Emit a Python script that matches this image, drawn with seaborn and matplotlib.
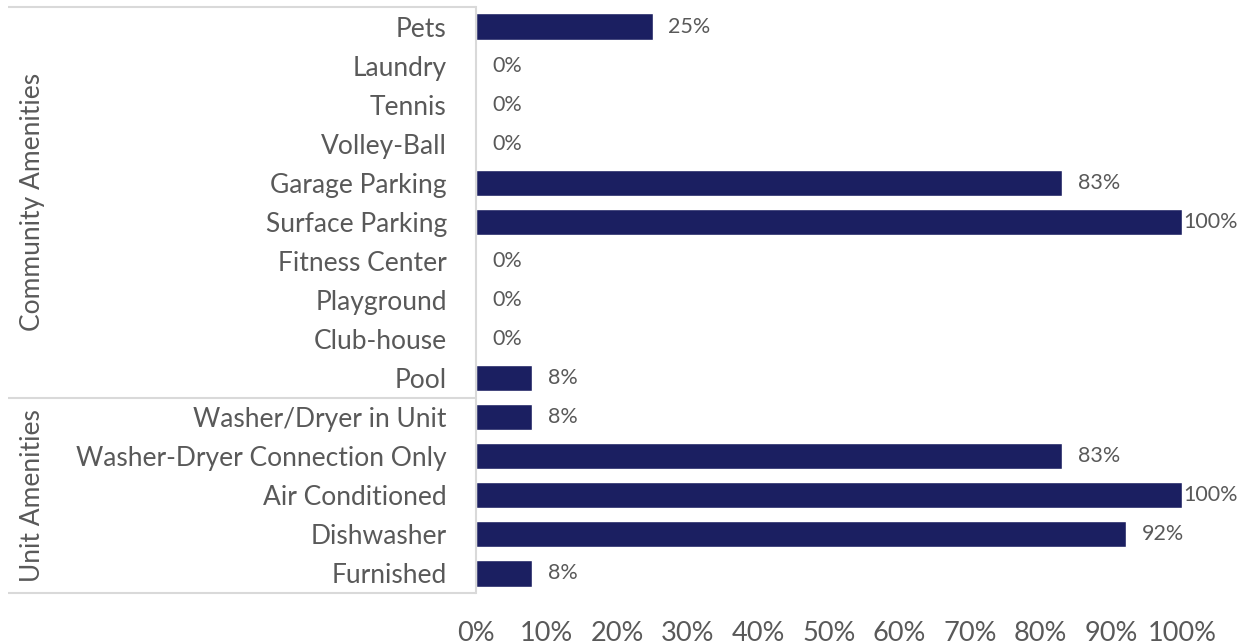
import matplotlib
matplotlib.use("Agg")
import matplotlib.pyplot as plt
import matplotlib.transforms as mtransforms
import seaborn as sns
import pandas as pd

categories = [
    "Pets", "Laundry", "Tennis", "Volley-Ball", "Garage Parking",
    "Surface Parking", "Fitness Center", "Playground", "Club-house", "Pool",
    "Washer/Dryer in Unit", "Washer-Dryer Connection Only", "Air Conditioned",
    "Dishwasher", "Furnished",
]
values = [25, 0, 0, 0, 83, 100, 0, 0, 0, 8, 8, 83, 100, 92, 8]
groups = ["Community Amenities"] * 10 + ["Unit Amenities"] * 5
tick_values = [0, 10, 20, 30, 40, 50, 60, 70, 80, 90, 100]

df = pd.DataFrame({"category": categories, "value": values, "group": groups})

sns.set_theme(style="white")
plt.rcParams["font.family"] = ["Lato", "DejaVu Sans"]

BAR = "#1b1f61"
TEXT = "#595959"
GRID = "#d9d9d9"

fig = plt.figure(figsize=(12.47, 6.44), dpi=100)
ax = fig.add_axes([476 / 1247, 1 - 593 / 644, (1182 - 476) / 1247, 586 / 644])

sns.barplot(data=df, x="value", y="category", order=categories, color=BAR,
            orient="h", width=0.67, saturation=1, ax=ax)

ax.set_xlim(0, 100)
ax.set_ylim(len(categories) - 0.5, -0.5)
ax.set_xlabel("")
ax.set_ylabel("")
ax.set_xticks(tick_values)
ax.set_xticklabels([f"{v}%" for v in tick_values], fontsize=19.5, color=TEXT)
ax.tick_params(axis="x", length=0, pad=20)
ax.tick_params(axis="y", length=0, pad=21, labelsize=19, labelcolor=TEXT)

for side in ["top", "right", "bottom"]:
    ax.spines[side].set_visible(False)
ax.spines["left"].set_color(GRID)
ax.spines["left"].set_linewidth(1.5)

# value labels next to each bar
for i, v in enumerate(values):
    offset = 1 if v >= 100 else 11.5
    ax.annotate(f"{v}%", xy=(v, i), xytext=(offset, 0), textcoords="offset points",
                ha="left", va="center", fontsize=15.5, color=TEXT)

# group bracket lines spanning the category label area
trans = mtransforms.blended_transform_factory(fig.transFigure, ax.transData)
x0 = 8 / 1247
x1 = 476 / 1247
for yb in [-0.5, 9.5, len(categories) - 0.5]:
    ax.plot([x0, x1], [yb, yb], transform=trans, color=GRID, lw=1.5,
            clip_on=False, solid_capstyle="butt")

# rotated group titles
group_names = ["Community Amenities", "Unit Amenities"]
for name in group_names:
    idx = [i for i, g in enumerate(groups) if g == name]
    ymid = (idx[0] + idx[-1]) / 2
    ax.text(33 / 1247, ymid, name, transform=trans, rotation=90, ha="center",
            va="center", fontsize=19, color=TEXT)

fig.savefig("out.png", dpi=100)
